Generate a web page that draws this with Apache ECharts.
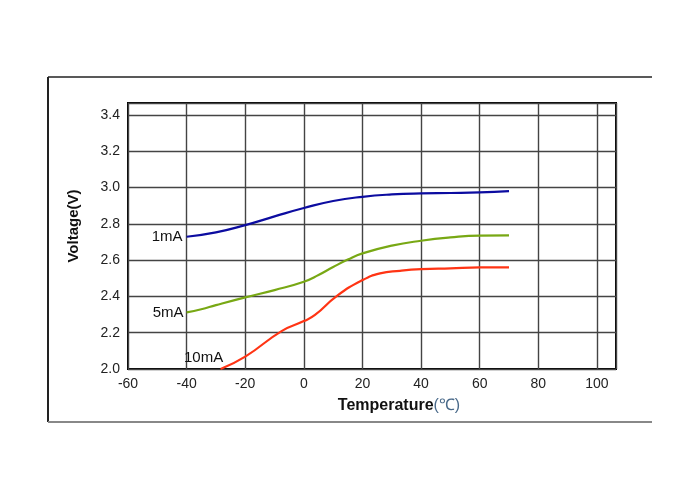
<!DOCTYPE html>
<html>
  <head>
    <meta charset="utf-8" />
    <title>Voltage vs Temperature</title>
    <script src="https://cdn.jsdelivr.net/npm/echarts/dist/echarts.min.js"></script>
    <style>
      body { margin: 0; background: #fff; }
    </style>
  </head>
  <body>
    <div id="main" style="width: 700px; height: 500px;"></div>
    <script type="text/javascript">
      var myChart = echarts.init(document.getElementById('main'));

      // values
      var temps1 = [-40, -30, -20, -10, 0, 10, 20, 30, 40, 50, 60, 70];
      var volts1 = [2.729, 2.753, 2.793, 2.841, 2.887, 2.926, 2.949, 2.962, 2.968, 2.970, 2.973, 2.980];

      var temps5 = [-40, -35, -30, -20, -10, 0, 5, 10, 15, 20, 30, 40, 50, 60, 70];
      var volts5 = [2.312, 2.329, 2.352, 2.395, 2.435, 2.481, 2.518, 2.562, 2.603, 2.637, 2.680, 2.707, 2.725, 2.735, 2.736];

      var temps10 = [-28.4, -20, -7.6, 0, 3.8, 11.2, 20, 26, 32.8, 40, 50, 60, 70];
      var volts10 = [2.0, 2.068, 2.209, 2.264, 2.298, 2.402, 2.490, 2.527, 2.541, 2.550, 2.555, 2.560, 2.560];

      var seriesNames = ['1mA', '5mA', '10mA'];
      var font = "'Liberation Sans', Arial, sans-serif";

      function buildData(temps, volts, label) {
        return temps.map(function (t, i) {
          if (i === 0) {
            return { value: [t, volts[i]], label: label };
          }
          return [t, volts[i]];
        });
      }

      function curve(name, color, temps, volts, label) {
        return {
          name: name,
          type: 'line',
          smooth: 0.5,
          showSymbol: true,
          symbol: 'circle',
          symbolSize: 0,
          lineStyle: { color: color, width: 2.2 },
          itemStyle: { color: color },
          label: { show: false },
          data: buildData(temps, volts, Object.assign({
            show: true,
            formatter: name,
            color: '#111',
            fontSize: 15,
            fontFamily: font
          }, label))
        };
      }

      var option = {
        animation: false,
        backgroundColor: '#fff',
        grid: {
          left: 128,
          top: 103,
          right: 84,
          bottom: 131,
          show: true,
          borderColor: '#000',
          borderWidth: 2,
          backgroundColor: 'transparent'
        },
        xAxis: {
          type: 'value',
          min: -60,
          max: 106.5,
          interval: 20,
          name: '{b|Temperature}{n|(℃)}',
          nameLocation: 'middle',
          nameGap: 29,
          nameTextStyle: {
            padding: [0, 0, 0, 54],
            rich: {
              b: { fontSize: 16, fontWeight: 'bold', color: '#111', fontFamily: font },
              n: { fontSize: 16, color: '#4a6a8a', fontFamily: font }
            }
          },
          axisLine: { show: false },
          axisTick: { show: false },
          axisLabel: {
            showMaxLabel: false,
            color: '#222',
            fontSize: 14,
            fontFamily: font,
            margin: 8
          },
          splitLine: { lineStyle: { color: '#444', width: 1.4 } }
        },
        yAxis: {
          type: 'value',
          min: 2.0,
          max: 3.466,
          interval: 0.2,
          name: 'Voltage(V)',
          nameLocation: 'middle',
          nameGap: 47,
          nameTextStyle: {
            fontSize: 15,
            fontWeight: 'bold',
            color: '#111',
            fontFamily: font,
            padding: [0, 0, 0, 20]
          },
          axisLine: { show: false },
          axisTick: { show: false },
          axisLabel: {
            showMaxLabel: false,
            color: '#222',
            fontSize: 14,
            fontFamily: font,
            margin: 8,
            padding: [0, 0, 4, 0],
            formatter: function (v) { return v.toFixed(1); }
          },
          splitLine: { lineStyle: { color: '#444', width: 1.4 } }
        },
        graphic: [
          { type: 'line', shape: { x1: 48, y1: 77, x2: 652, y2: 77 }, style: { stroke: '#222', lineWidth: 1.5 } },
          { type: 'line', shape: { x1: 48, y1: 77, x2: 48, y2: 422 }, style: { stroke: '#222', lineWidth: 2 } },
          { type: 'line', shape: { x1: 48, y1: 422, x2: 652, y2: 422 }, style: { stroke: '#888', lineWidth: 2 } }
        ],
        series: [
          curve(seriesNames[0], '#0c0ca0', temps1, volts1, { position: 'left', distance: 4 }),
          curve(seriesNames[1], '#78a814', temps5, volts5, { position: 'left', distance: 3 }),
          curve(seriesNames[2], '#ff3414', temps10, volts10, { position: 'top', distance: 4, offset: [-17, 0] })
        ]
      };

      myChart.setOption(option);
    </script>
  </body>
</html>
